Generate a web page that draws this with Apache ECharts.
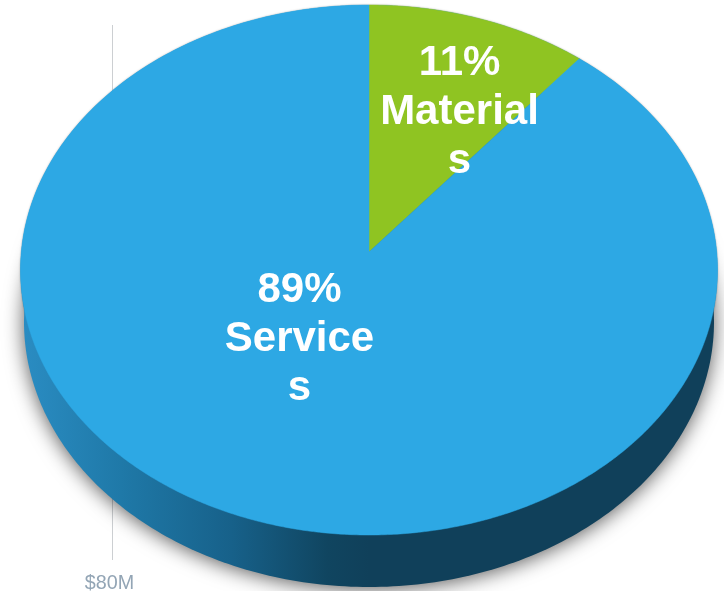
<!DOCTYPE html>
<html>
<head>
<meta charset="utf-8">
<style>html,body{margin:0;padding:0;background:#fff}#c{width:724px;height:591px}</style>
<script src="https://cdn.jsdelivr.net/npm/echarts@6/dist/echarts.min.js"></script>
</head>
<body>
<div id="c"></div>
<script>
const categories = ['Materials', 'Services'];
const shares = [11, 89];
const sliceColors = ['#8FC422', '#2DA8E4'];
const axisTickLabel = '$80M';

const TOP = {cx: 369, cy: 270, rx: 348.5, ry: 265};
const BOTTOM = {cx: 369, cy: 322, rx: 345, ry: 265};
const APEX_Y = 252;
const LABEL_POS = [[459.5, 112], [299.5, 339]];

function ellipsePoints(e) {
  const pts = [];
  for (let i = 0; i < 360; i++) {
    const t = i * Math.PI / 180;
    pts.push([e.cx + e.rx * Math.sin(t), e.cy - e.ry * Math.cos(t)]);
  }
  return pts;
}
// point on the rim along the ray from the apex, at angle th (clockwise from 12 o'clock)
function rim(th) {
  const a = (APEX_Y - TOP.cy) / TOP.ry;
  const sx = Math.sin(th), sy = -Math.cos(th);
  const b = a * sy;
  const s = -b + Math.sqrt(b * b - (a * a - 1));
  return [TOP.cx + TOP.rx * s * sx, TOP.cy + TOP.ry * (a + s * sy)];
}
const total = shares.reduce((a, b) => a + b, 0);

const sideGradient = new echarts.graphic.LinearGradient(0, 0, 1, 0, [
  {offset: 0, color: '#2A8CC2'},
  {offset: 0.14, color: '#1F79A8'},
  {offset: 0.30, color: '#17618A'},
  {offset: 0.44, color: '#104560'},
  {offset: 0.5, color: '#10405A'},
  {offset: 1, color: '#10405A'}
]);

function renderSlice(params, api) {
  const i = params.dataIndex;
  const before = shares.slice(0, i).reduce((a, b) => a + b, 0);
  const start = before / total * Math.PI * 2;
  const end = (before + api.value(0)) / total * Math.PI * 2;
  const n = Math.max(2, Math.round((end - start) * 120));
  const pts = [[TOP.cx, APEX_Y]];
  for (let k = 0; k <= n; k++) pts.push(rim(start + (end - start) * k / n));
  const name = categories[i];
  const children = [];
  if (i === shares.indexOf(Math.max.apply(null, shares))) {
    children.push({
      type: 'polygon', z2: 0,
      shape: {points: ellipsePoints(TOP)},
      style: {fill: '#2DA8E4', shadowColor: 'rgba(60,60,60,0.55)', shadowBlur: 2}
    });
    children.push({
      type: 'polygon', z2: 1,
      shape: {points: ellipsePoints(BOTTOM)},
      style: {fill: sideGradient, shadowColor: 'rgba(0,0,0,0.65)', shadowBlur: 20, shadowOffsetX: 0, shadowOffsetY: 2}
    });
  }
  children.push({
    type: 'polygon', z2: 2,
    shape: {points: pts},
    style: {fill: sliceColors[i], stroke: sliceColors[i], lineWidth: 0.5}
  });
  children.push({
    type: 'text', z2: 3,
    x: LABEL_POS[i][0], y: LABEL_POS[i][1],
    style: {
      text: shares[i] + '%\n' + name.slice(0, -1) + '\n' + name.slice(-1),
      fill: '#fff', font: 'bold 42px "Liberation Sans", Arial, sans-serif',
      lineHeight: 49, align: 'center', verticalAlign: 'middle'
    }
  });
  return {type: 'group', children: children};
}

const chart = echarts.init(document.getElementById('c'), null, {renderer: 'canvas'});
chart.setOption({
  animation: false,
  backgroundColor: '#fff',
  graphic: [
    {type: 'line', z: 0, shape: {x1: 112.5, y1: 25, x2: 112.5, y2: 560}, style: {stroke: '#CCCFD2', lineWidth: 1}},
    {type: 'text', z: 0, x: 109.5, y: 583, scaleX: 0.94, style: {
      text: axisTickLabel, fill: '#93A5B5', font: '21px "Liberation Sans", Arial, sans-serif',
      align: 'center', verticalAlign: 'middle'
    }}
  ],
  series: [{
    type: 'custom',
    coordinateSystem: 'none',
    z: 2,
    clip: false,
    renderItem: renderSlice,
    data: categories.map((c, i) => ({name: c, value: [shares[i]]}))
  }]
});
</script>
</body>
</html>
